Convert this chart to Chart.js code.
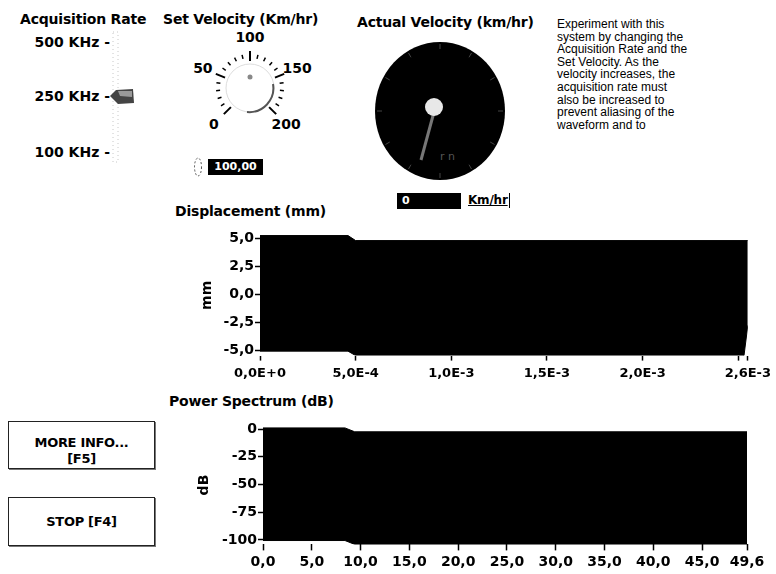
<!DOCTYPE html>
<html>
<head>
<meta charset="utf-8">
<script src="https://cdn.jsdelivr.net/npm/chart.js@4.4.0/dist/chart.umd.min.js"></script>
<style>
  body { margin: 0; background: #fff; }
  #panel { position: relative; width: 776px; height: 574px; overflow: hidden; font-family: "DejaVu Sans", sans-serif; color: #000; }
  .lbl { position: absolute; font-weight: bold; font-size: 14px; white-space: nowrap; letter-spacing: -0.2px; }
  .rate { position: absolute; left: 10px; width: 100px; text-align: right; font-weight: bold; font-size: 14px; }
  .box { position: absolute; background: #000; color: #fff; font-weight: bold; font-size: 11px; }
  .btn { position: absolute; left: 8px; width: 145px; border: 1px solid #222; box-shadow: 1px 1px 0 #777; text-align: center; font-weight: bold; font-size: 13px; letter-spacing: -0.3px; }
  #note { position: absolute; left: 557px; top: 18px; font-family: "Liberation Sans", sans-serif; font-size: 12px; line-height: 12.6px; }
  .wrap { position: absolute; }
  svg { position: absolute; left: 0; top: 0; }
</style>
</head>
<body>
<div id="panel">
  <svg width="776" height="574" id="deco"></svg>

  <div class="lbl" style="left:20px; top:11px;">Acquisition Rate</div>
  <div class="lbl" style="left:163px; top:11px;">Set Velocity (Km/hr)</div>
  <div class="lbl" style="left:357px; top:14px;">Actual Velocity (km/hr)</div>

  <div class="rate" style="top:34px;">500 KHz -</div>
  <div class="rate" style="top:88px;">250 KHz -</div>
  <div class="rate" style="top:144px;">100 KHz -</div>

  <div class="box" style="left:208px; top:159px; width:55px; height:16px; line-height:16px; text-align:center;">100,00</div>
  <div class="box" style="left:397px; top:193px; width:64px; height:16px; line-height:16px;"><span style="margin-left:5px;">0</span></div>
  <div class="lbl" style="left:468px; top:193px; height:15px; font-size:12px; text-decoration:underline; border-right:1px solid #000; padding-right:1px;">Km/hr</div>

  <div id="note">Experiment with this<br>system by changing the<br>Acquisition Rate and the<br>Set Velocity. As the<br>velocity increases, the<br>acquisition rate must<br>also be increased to<br>prevent aliasing of the<br>waveform and to</div>

  <div class="lbl" style="left:175px; top:203px;">Displacement (mm)</div>
  <div class="lbl" style="left:169px; top:393px;">Power Spectrum (dB)</div>

  <div class="btn" style="top:421px; height:46px;"><div style="margin-top:13px; line-height:16px;">MORE INFO...</div><div style="line-height:16px;">[F5]</div></div>
  <div class="btn" style="top:497px; height:47px; line-height:47px;">STOP [F4]</div>

  <div class="wrap" style="left:140px; top:222px;"><canvas id="dispChart" width="636" height="160"></canvas></div>
  <div class="wrap" style="left:140px; top:412px;"><canvas id="specChart" width="636" height="162"></canvas></div>
</div>

<script>
// Displacement (mm) graph: envelope of the dense waveform
const dispX = [0, 4.6e-4, 5.0e-4, 2.53e-3, 2.55e-3];
const dispTop = [5.25, 5.25, 4.8, 4.8, 4.8];
const dispBottom = [-5.1, -5.1, -5.5, -5.5, -2.8];
const dispXTicks = [0, 5e-4, 1e-3, 1.5e-3, 2e-3, 2.5e-3, 2.55e-3];
const dispXLabels = ["0,0E+0", "5,0E-4", "1,0E-3", "1,5E-3", "2,0E-3", "", "2,6E-3"];
const dispYTicks = [5, 2.5, 0, -2.5, -5];
const dispYLabels = ["5,0", "2,5", "0,0", "-2,5", "-5,0"];

// Power Spectrum (dB) graph
const specX = [0, 8.4, 9.4, 49.6];
const specTop = [1, 1, -2.5, -2.5];
const specBottom = [-100.5, -100.5, -104, -104];
const specXTicks = [0, 5, 10, 15, 20, 25, 30, 35, 40, 45, 49.6];
const specXLabels = ["0,0", "5,0", "10,0", "15,0", "20,0", "25,0", "30,0", "35,0", "40,0", "45,0", "49,6"];
const specYTicks = [0, -25, -50, -75, -100];
const specYLabels = ["0", "-25", "-50", "-75", "-100"];

// Set Velocity knob scale
const knobTicks = [0, 10, 20, 30, 40, 50, 60, 70, 80, 90, 100, 110, 120, 130, 140, 150, 160, 170, 180, 190, 200];
const knobLabels = [0, 50, 100, 150, 200];

Chart.defaults.font.family = "DejaVu Sans";
Chart.defaults.font.weight = "bold";
Chart.defaults.color = "#000";

function makeGraph(id, g) {
  const pts = arr => g.x.map((v, i) => ({ x: v, y: arr[i] }));
  return new Chart(document.getElementById(id), {
    type: "line",
    data: {
      datasets: [
        { data: pts(g.top), borderColor: "#000", borderWidth: 1, pointRadius: 0, fill: false },
        { data: pts(g.bottom), borderColor: "#000", borderWidth: 1, pointRadius: 0, backgroundColor: "#000", fill: "-1" }
      ]
    },
    options: {
      responsive: false,
      animation: false,
      layout: { padding: { top: g.padTop, right: g.padRight, left: 0, bottom: 0 } },
      plugins: { legend: { display: false }, tooltip: { enabled: false } },
      scales: {
        x: {
          type: "linear", min: g.x[0], max: g.xTicks[g.xTicks.length - 1],
          afterBuildTicks: s => { s.ticks = g.xTicks.map(v => ({ value: v })); },
          afterFit: s => { s.height = g.xH; },
          ticks: { autoSkip: false, maxRotation: 0, padding: g.xPad, font: { size: g.xFont }, callback: (v, i) => g.xLabels[i] },
          grid: { drawOnChartArea: false, tickLength: g.xTick, tickWidth: 1.5, color: "#000" },
          border: { display: false }
        },
        y: {
          min: g.yMin, max: g.yMax,
          afterBuildTicks: s => { s.ticks = g.yTicks.map(v => ({ value: v })); },
          afterFit: s => { s.width = g.yW; },
          title: { display: true, text: g.yTitle, font: { size: 14, weight: "bold" }, padding: { top: g.titlePad, bottom: 0 } },
          ticks: { autoSkip: false, padding: 1, font: { size: 14 }, callback: (v, i) => g.yLabels[i] },
          grid: { drawOnChartArea: false, tickLength: 5, tickWidth: 1.5, color: "#000" },
          border: { display: false }
        }
      }
    }
  });
}

makeGraph("dispChart", {
  x: dispX, top: dispTop, bottom: dispBottom,
  xTicks: dispXTicks, xLabels: dispXLabels, yTicks: dispYTicks, yLabels: dispYLabels,
  yMin: -5.5, yMax: 5.3, yTitle: "mm", titlePad: 59,
  padTop: 13, padRight: 25, yW: 120, xH: 26.4, xPad: 5, xTick: 5, xFont: 13
});

makeGraph("specChart", {
  x: specX, top: specTop, bottom: specBottom,
  xTicks: specXTicks, xLabels: specXLabels, yTicks: specYTicks, yLabels: specYLabels,
  yMin: -104, yMax: 3, yTitle: "dB", titlePad: 56,
  padTop: 13.7, padRight: 29, yW: 123, xH: 29.6, xPad: 4, xTick: 6, xFont: 14
});

// front panel widgets (knob, gauge, slider)
const NS = "http://www.w3.org/2000/svg";
const deco = document.getElementById("deco");
function el(tag, attrs, text) {
  const e = document.createElementNS(NS, tag);
  for (const k in attrs) e.setAttribute(k, attrs[k]);
  if (text !== undefined) e.textContent = text;
  deco.appendChild(e);
  return e;
}

// acquisition rate slider
el("rect", { x: 113, y: 32, width: 5, height: 130, fill: "none", stroke: "#c8c8c8", "stroke-width": 1, "stroke-dasharray": "1 3" });
el("path", { d: "M110 96 L116 90 L133 89 L134 103 L118 104 Z", fill: "#444" });
el("path", { d: "M118 91 L132 91 L132 97 L120 96 Z", fill: "#999" });

// set velocity knob
const kx = 250, ky = 88;
const ang = v => (225 - 270 * v / 200) * Math.PI / 180;
knobTicks.forEach(v => {
  const a = ang(v), major = knobLabels.includes(v);
  const r1 = major ? 27 : 30, r2 = major ? 37 : 34;
  el("line", { x1: kx + r1 * Math.cos(a), y1: ky - r1 * Math.sin(a), x2: kx + r2 * Math.cos(a), y2: ky - r2 * Math.sin(a), stroke: "#000", "stroke-width": major ? 2 : 1.5 });
});
knobLabels.forEach(v => {
  const a = ang(v), r = 51;
  el("text", { x: kx + r * Math.cos(a), y: ky - r * Math.sin(a) + 5, "text-anchor": "middle", "font-family": "DejaVu Sans", "font-weight": "bold", "font-size": 14 }, String(v));
});
el("circle", { cx: kx, cy: ky, r: 24, fill: "none", stroke: "#ddd", "stroke-width": 1 });
el("path", { d: "M 247 112 A 24 24 0 0 0 273 84", fill: "none", stroke: "#555", "stroke-width": 2 });
el("circle", { cx: 250, cy: 77, r: 2.5, fill: "#888" });
// numeric increment arrows
el("ellipse", { cx: 198, cy: 167, rx: 3.5, ry: 9, fill: "none", stroke: "#555", "stroke-width": 1, "stroke-dasharray": "2 2" });

// actual velocity gauge
el("ellipse", { cx: 440, cy: 111, rx: 65, ry: 69, fill: "#000" });
for (let i = 0; i < 12; i++) {
  const a = i * Math.PI / 6;
  el("line", { x1: 440 + 58 * Math.cos(a), y1: 111 - 62 * Math.sin(a), x2: 440 + 63 * Math.cos(a), y2: 111 - 67 * Math.sin(a), stroke: "#444", "stroke-width": 1 });
}
el("line", { x1: 434, y1: 112, x2: 421, y2: 160, stroke: "#777", "stroke-width": 3 });
el("circle", { cx: 434, cy: 107, r: 9, fill: "#e8e8e8" });
el("text", { x: 440, y: 160, "font-family": "DejaVu Sans", "font-size": 11, fill: "#555" }, "r n");
</script>
</body>
</html>
